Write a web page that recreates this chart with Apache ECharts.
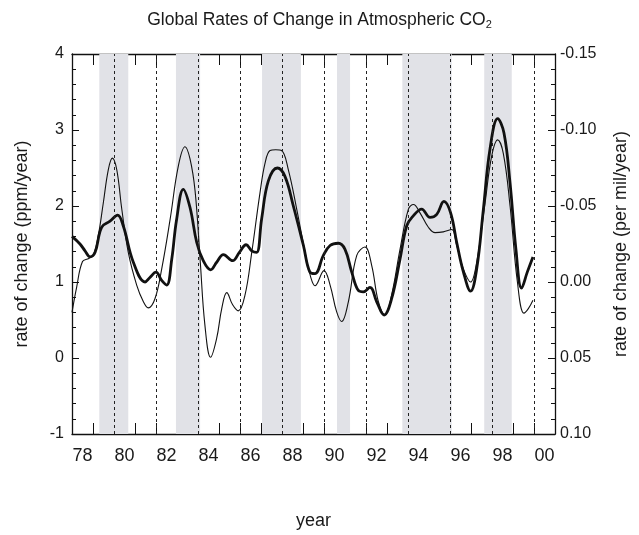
<!DOCTYPE html>
<html>
<head>
<meta charset="utf-8">
<script src="https://cdn.jsdelivr.net/npm/echarts@6/dist/echarts.min.js"></script>
<style>
html,body{margin:0;padding:0;background:#fff;}
#chart{width:639px;height:535px;}
</style>
</head>
<body>
<div id="chart"></div>
<script>
// ---- data ----
var thickYears = [1978.0,1978.38,1978.62,1978.86,1979.1,1979.41,1979.81,1980.17,1980.44,1980.92,1981.48,1981.71,1982.0,1982.27,1982.51,1982.75,1982.98,1983.3,1983.62,1983.94,1984.25,1984.6,1984.89,1985.21,1985.65,1985.97,1986.29,1986.56,1986.79,1987.03,1987.35,1987.78,1988.14,1988.54,1989.02,1989.33,1989.57,1989.97,1990.29,1990.68,1991.0,1991.32,1991.63,1991.87,1992.19,1992.51,1992.86,1993.22,1993.62,1993.94,1994.25,1994.65,1995.05,1995.37,1995.71,1996.03,1996.32,1996.64,1996.98,1997.27,1997.59,1997.9,1998.27,1998.57,1998.86,1999.14,1999.41,1999.68,1999.95];
var thickValues = [1.60,1.50,1.41,1.33,1.39,1.72,1.80,1.88,1.74,1.26,1.00,1.06,1.13,1.02,0.96,1.30,1.82,2.22,1.98,1.52,1.28,1.16,1.26,1.36,1.28,1.39,1.49,1.41,1.39,1.83,2.33,2.50,2.39,2.00,1.48,1.13,1.11,1.35,1.48,1.51,1.43,1.13,0.89,0.87,0.93,0.74,0.565,0.78,1.30,1.74,1.87,1.96,1.85,1.89,2.06,1.91,1.52,1.13,0.88,1.17,1.96,2.74,3.15,2.96,2.30,1.43,0.92,1.13,1.33];
var thinYears = [1978.0,1978.22,1978.5,1978.8,1979.02,1979.25,1979.49,1979.73,1979.92,1980.13,1980.37,1980.68,1981.08,1981.4,1981.63,1981.95,1982.27,1982.67,1983.06,1983.38,1983.62,1983.86,1984.1,1984.33,1984.6,1984.89,1985.13,1985.37,1985.65,1985.92,1986.24,1986.56,1986.95,1987.19,1987.43,1987.7,1987.98,1988.3,1988.7,1989.1,1989.37,1989.57,1990.0,1990.29,1990.6,1990.84,1991.16,1991.56,1991.95,1992.27,1992.59,1992.9,1993.22,1993.62,1994.02,1994.26,1994.57,1994.97,1995.29,1995.68,1996.08,1996.32,1996.64,1996.98,1997.27,1997.67,1997.98,1998.27,1998.54,1998.86,1999.21,1999.52,1999.73,1999.95];
var thinValues = [0.60,0.93,1.27,1.31,1.36,1.61,2.04,2.48,2.63,2.48,1.96,1.39,0.96,0.74,0.66,0.78,1.17,1.82,2.52,2.78,2.62,2.20,1.30,0.43,0.01,0.26,0.65,0.86,0.70,0.62,0.83,1.39,2.17,2.56,2.73,2.74,2.73,2.48,1.96,1.39,1.06,0.95,1.15,0.96,0.61,0.48,0.74,1.35,1.46,1.22,0.74,0.57,0.83,1.43,1.96,2.02,1.91,1.72,1.65,1.66,1.69,1.48,1.17,1.00,1.26,2.04,2.65,2.87,2.69,2.00,1.00,0.59,0.65,0.76];
var bandStarts = [1979.30,1982.95,1987.05,1990.62,1993.73,1997.63];
var bandEnds   = [1980.68,1984.10,1988.90,1991.24,1996.08,1998.94];
var dashedYears = [1980,1982,1984,1986,1988,1990,1992,1994,1996,1998,2000];
var leftTicks = {min:-1, max:4, interval:1};
var rightTicks = {min:-0.15, max:0.10, interval:0.05};

function pairs(xs, ys){ return xs.map(function(x,i){ return [x, ys[i]]; }); }

var FONT = '"Liberation Sans", Arial, Helvetica, sans-serif';
var TXT = '#1a1a1a';
var chart = echarts.init(document.getElementById('chart'), null, {renderer:'canvas'});

var xCommon = {
  type:'value', min:1978, max:2001, interval:1,
  splitLine:{show:false},
  axisLine:{show:true, onZero:false, lineStyle:{color:'#111', width:1.3}},
  axisTick:{show:true, inside:true, length:11, lineStyle:{color:'#111', width:1}}
};

var option = {
  animation:false,
  backgroundColor:'#fff',
  title:{
    text:'Global Rates of Change in Atmospheric CO{sub|2}',
    left:'center', top:5,
    textStyle:{fontFamily:FONT, fontSize:17.5, fontWeight:'normal', color:TXT,
      rich:{sub:{fontFamily:FONT, fontSize:11, color:TXT, verticalAlign:'bottom', padding:[9,0,0,0]}}}
  },
  grid:{left:72, right:84, top:54, bottom:98, containLabel:false},
  xAxis:[
    Object.assign({}, xCommon, {
      position:'bottom',
      name:'year', nameLocation:'middle', nameGap:78,
      nameTextStyle:{fontFamily:FONT, fontSize:18, color:TXT},
      axisLabel:{show:true, fontFamily:FONT, fontSize:18, color:TXT, margin:13,
        padding:[0,0,0,21],
        formatter:function(v){ var y=Math.round(v); if (y%2!==0 || y>2000) return ''; var s=String(y%100); return s.length<2?'0'+s:s; }}
    }),
    Object.assign({}, xCommon, {position:'top', axisLabel:{show:false}})
  ],
  yAxis:[
    {
      type:'value', position:'left', min:leftTicks.min, max:leftTicks.max, interval:leftTicks.interval,
      splitLine:{show:false},
      axisLine:{show:true, onZero:false, lineStyle:{color:'#111', width:1.3}},
      axisTick:{show:true, inside:true, length:7, lineStyle:{color:'#111'}},
      minorTick:{show:true, splitNumber:5, length:4, lineStyle:{color:'#111'}},
      axisLabel:{fontFamily:FONT, fontSize:16, color:TXT, margin:8, padding:[4,0,0,0]},
      name:'rate of change (ppm/year)', nameLocation:'middle', nameGap:41, nameRotate:90,
      nameTextStyle:{fontFamily:FONT, fontSize:18, color:TXT}
    },
    {
      type:'value', position:'right', inverse:true, min:rightTicks.min, max:rightTicks.max, interval:rightTicks.interval,
      splitLine:{show:false},
      axisLine:{show:true, onZero:false, lineStyle:{color:'#111', width:1.3}},
      axisTick:{show:true, inside:true, length:7, lineStyle:{color:'#111'}},
      minorTick:{show:true, splitNumber:5, length:4, lineStyle:{color:'#111'}},
      axisLabel:{fontFamily:FONT, fontSize:16, color:TXT, margin:5, padding:[4,0,0,0],
        formatter:function(v){ if (Math.abs(v)<1e-9) return '0.00'; return v.toFixed(2); }},
      name:'rate of change (per mil/year)', nameLocation:'middle', nameGap:57, nameRotate:90,
      nameTextStyle:{fontFamily:FONT, fontSize:18, color:TXT}
    }
  ],
  series:[
    {
      type:'line', xAxisIndex:0, yAxisIndex:0, data:[], z:1, silent:true,
      markArea:{silent:true, itemStyle:{color:'#e1e2e7'},
        data: bandStarts.map(function(s,i){ return [{xAxis:s},{xAxis:bandEnds[i]}]; })},
      markLine:{silent:true, symbol:['none','none'], label:{show:false},
        lineStyle:{color:'#222', width:1, type:[3,3]},
        data: dashedYears.map(function(y){ return {xAxis:y}; })}
    },
    {
      type:'line', xAxisIndex:0, yAxisIndex:0, z:3,
      data: pairs(thinYears, thinValues), smooth:0.4, showSymbol:false,
      lineStyle:{color:'#111', width:1.1}
    },
    {
      type:'line', xAxisIndex:0, yAxisIndex:0, z:4,
      data: pairs(thickYears, thickValues), smooth:0.4, showSymbol:false,
      lineStyle:{color:'#111', width:2.8}
    }
  ]
};
chart.setOption(option);
</script>
</body>
</html>
